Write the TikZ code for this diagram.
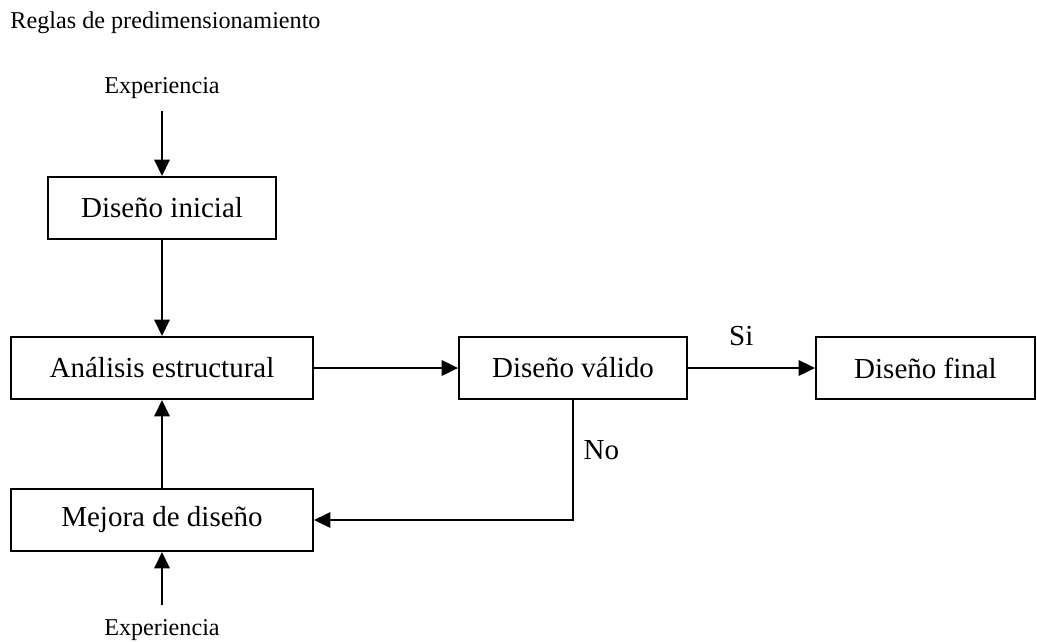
\documentclass[tikz,border=0pt]{standalone}
\usepackage{fontspec}
\setmainfont{Liberation Serif}
\usetikzlibrary{positioning,calc,arrows.meta}

\begin{document}
\begin{tikzpicture}[x=0.4138pt,y=-0.4138pt,
    box/.style={draw,line width=0.8pt,minimum height=25.7pt,inner sep=0pt,font=\fontsize{12}{14}\selectfont},
    small/.style={inner sep=0pt,font=\fontsize{10}{12}\selectfont},
    lbl/.style={inner sep=0pt,font=\fontsize{12}{14}\selectfont},
    flow/.style={-{Triangle[length=6.8pt,width=6.4pt]},line width=0.8pt}]

    \useasboundingbox (0,0) rectangle (1037,641);

    \node[small,anchor=base west] (rules) at (10,28) {Reglas de predimensionamiento};

    \node[box,minimum width=94pt] (init) at (162,208) {Diseño inicial};
    \node[box,minimum width=125pt] (analysis) at (162,368) {Análisis estructural};
    \node[box,minimum width=94.3pt] (valid) at (573,368) {Diseño válido};
    \node[box,minimum width=90.6pt] (final) at (925.5,368) {Diseño final};
    \node[box,minimum width=125pt] (improve) at (162,520) {Mejora de diseño};

    \node[small,anchor=base] (expTop) at (162,93) {Experiencia};
    \node[small,anchor=base] (expBot) at (162,635) {Experiencia};

    \draw[flow,shorten <=5pt] (expTop.south) -- (init.north);
    \draw[flow] (init) -- (analysis);
    \draw[flow] (analysis) -- (valid);
    \draw[flow] (valid) -- (final) node[lbl,pos=0.42,above=9pt]{Si};
    \draw[flow] (valid.south) |- (improve.east) node[lbl,pos=0.21,right=4pt]{No};
    \draw[flow] (improve) -- (analysis);
    \draw[flow,shorten <=5.5pt] (expBot.north) -- (improve.south);

\end{tikzpicture}
\end{document}
